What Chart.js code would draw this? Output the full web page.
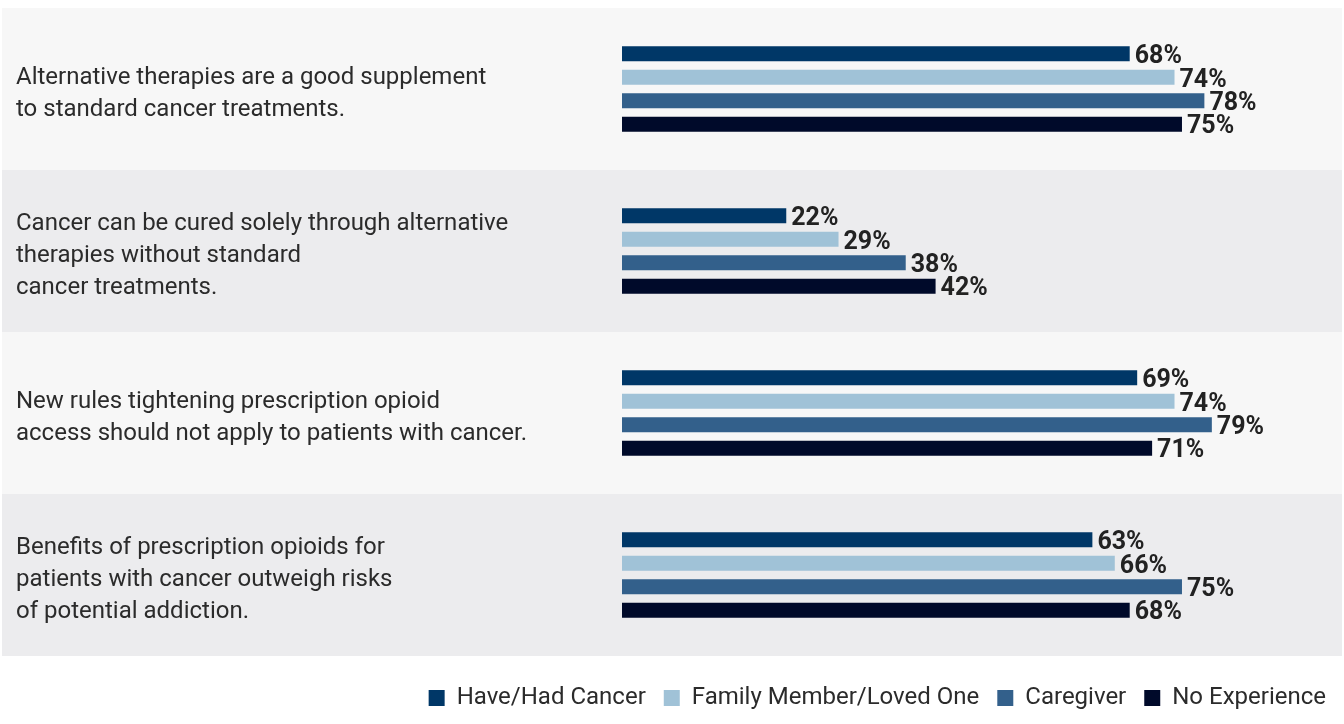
<!DOCTYPE html>
<html>
<head>
<meta charset="utf-8">
<script src="https://cdn.jsdelivr.net/npm/chart.js@4.4.1/dist/chart.umd.min.js"></script>
<style>
    body { margin: 0; background: #fff; }
</style>
</head>
<body>
<canvas id="chart" width="1344" height="724"></canvas>
<script>
let statements = [
    ["Alternative therapies are a good supplement", "to standard cancer treatments."],
    ["Cancer can be cured solely through alternative", "therapies without standard", "cancer treatments."],
    ["New rules tightening prescription opioid", "access should not apply to patients with cancer."],
    ["Benefits of prescription opioids for", "patients with cancer outweigh risks", "of potential addiction."]
];
let haveHad = [68, 22, 69, 63];
let family = [74, 29, 74, 66];
let caregiver = [78, 38, 79, 75];
let noExperience = [75, 42, 71, 68];
let groups = ["Have/Had Cancer", "Family Member/Loved One", "Caregiver", "No Experience"];
let colors = ["#003767", "#a0c2d7", "#33608b", "#000a2a"];
let bandColors = ["#f7f7f7", "#ececee"];

// row backgrounds
const bandsPlugin = {
    id: "bands",
    beforeDraw(chart) {
        let ctx = chart.ctx;
        let y = chart.scales.y;
        let half = (y.bottom - y.top) / statements.length / 2;
        ctx.save();
        statements.forEach((s, i) => {
            let c = y.getPixelForValue(i);
            ctx.fillStyle = bandColors[i % 2];
            ctx.fillRect(2, c - half, chart.width - 4, half * 2);
        });
        ctx.restore();
    }
};

// value labels at bar ends
const valuePlugin = {
    id: "values",
    afterDatasetsDraw(chart) {
        let ctx = chart.ctx;
        ctx.save();
        ctx.font = "bold 25px Roboto";
        ctx.fillStyle = "#222";
        ctx.textAlign = "left";
        ctx.textBaseline = "middle";
        chart.data.datasets.forEach((ds, d) => {
            chart.getDatasetMeta(d).data.forEach((bar, i) => {
                ctx.fillText(ds.data[i] + "%", bar.x + 5, bar.y + 3);
            });
        });
        ctx.restore();
    }
};

let series = [haveHad, family, caregiver, noExperience];

new Chart(document.getElementById("chart"), {
    type: "bar",
    data: {
        labels: statements,
        datasets: series.map((s, i) => ({
            label: groups[i],
            data: s,
            backgroundColor: colors[i],
            categoryPercentage: 0.58,
            barPercentage: 0.64
        }))
    },
    options: {
        indexAxis: "y",
        responsive: false,
        animation: false,
        layout: { padding: { left: 16, right: 0, top: 8, bottom: 4 } },
        scales: {
            x: { display: false, min: 0, max: 96.7 },
            y: {
                grid: { display: false },
                border: { display: false },
                ticks: {
                    crossAlign: "far",
                    padding: 0,
                    labelOffset: 5,
                    color: "#2b2b2b",
                    font: { family: "Roboto", size: 24, lineHeight: 1.33 }
                },
                afterFit(scale) {
                    scale.width = 606;
                    scale.paddingTop = 0;
                    scale.paddingBottom = 0;
                }
            }
        },
        plugins: {
            tooltip: { enabled: false },
            legend: {
                position: "bottom",
                align: "end",
                title: { display: true, text: "", padding: 0, font: { size: 12, lineHeight: 1 } },
                labels: {
                    boxWidth: 16,
                    boxHeight: 16,
                    padding: 18,
                    color: "#2b2b2b",
                    font: { family: "Roboto", size: 24 }
                }
            }
        }
    },
    plugins: [bandsPlugin, valuePlugin]
});
</script>
</body>
</html>
